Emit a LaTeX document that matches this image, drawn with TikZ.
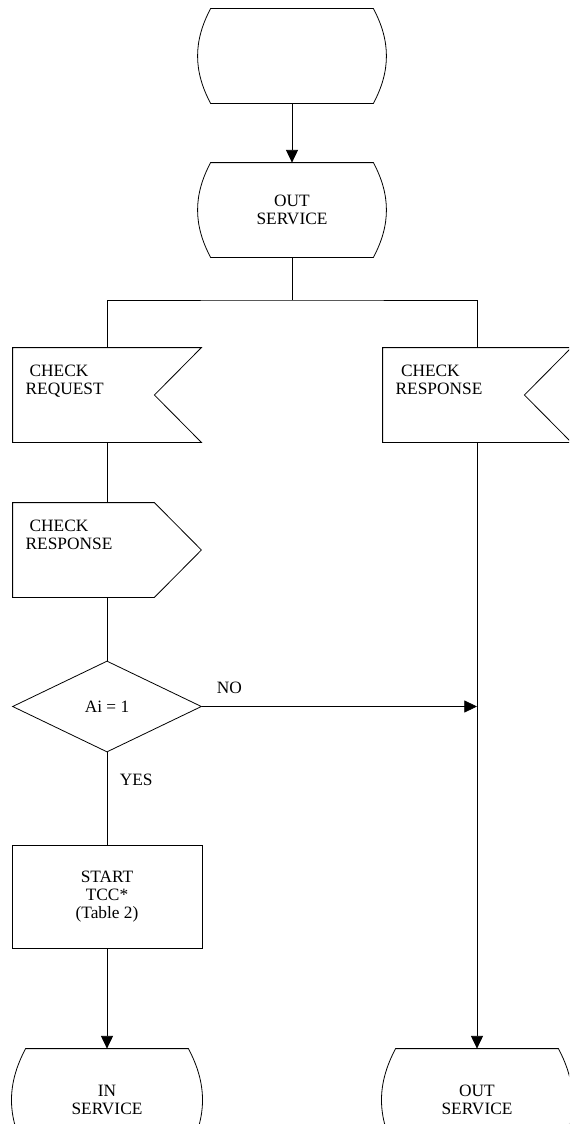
\documentclass[tikz,border=0pt]{standalone}
\usepackage{fontspec}
\setmainfont{Liberation Serif}
\usetikzlibrary{arrows.meta,positioning,shapes.geometric}
\tikzset{state/.style={minimum width=141pt,minimum height=70.5pt,inner sep=0pt,align=center}, sig/.style={minimum width=141pt,minimum height=70.5pt,inner sep=0pt}, sigtext/.style={anchor=north west,align=left,inner sep=0pt,xshift=9.5pt,yshift=22.5pt}, decision/.style={draw,diamond,minimum width=141.75pt,minimum height=68.25pt,inner sep=0pt}, box/.style={draw,align=center,minimum width=142.5pt,minimum height=77.25pt}, arr/.style={-{Triangle[length=9.5pt,width=9pt]}}}

\begin{document}
\begin{tikzpicture}[x=0.75pt,y=-0.75pt,line width=0.6pt,font=\fontsize{13}{13.2}\selectfont]
\useasboundingbox (0,0) rectangle (569,1124);
\clip (0,0) rectangle (569,1124);
\node[state] (s0) at (292,56) {};
\node[state] (s1) at (292,210) {OUT\\SERVICE};
\coordinate (fork) at (292,300);
\node[sig,label={[sigtext]west:{\hspace*{3pt}CHECK\\REQUEST}}] (creq) at (107,395) {};
\node[sig,label={[sigtext]west:{\hspace*{4pt}CHECK\\RESPONSE}}] (crsp) at (477,395) {};
\node[sig,label={[sigtext]west:{\hspace*{3pt}CHECK\\RESPONSE}}] (csnd) at (107,550) {};
\node[decision] (ai) at (107,706.5) {Ai = 1};
\node[box] (tcc) at (107,896.5) {START\\TCC*\\(Table 2)};
\node[state,minimum height=76.5pt] (insvc) at (107,1100) {IN\\SERVICE};
\node[state,minimum height=76.5pt] (outsvc) at (477,1100) {OUT\\SERVICE};
\coordinate (join) at (ai -| crsp);
% outlines
\foreach \n in {s0,s1,insvc,outsvc}
  \draw ([xshift=9.75pt]\n.north west) -- ([xshift=-9.75pt]\n.north east) to[bend left=28] ([xshift=-9.75pt]\n.south east) -- ([xshift=9.75pt]\n.south west) to[bend left=28] ([xshift=9.75pt]\n.north west) -- cycle;
\foreach \n in {creq,crsp}
  \draw (\n.north west) -- (\n.north east) -- ([xshift=-35.25pt]\n.east) -- (\n.south east) -- (\n.south west) -- cycle;
\draw (csnd.north west) -- ([xshift=-35.25pt]csnd.north east) -- (csnd.east) -- ([xshift=-35.25pt]csnd.south east) -- (csnd.south west) -- cycle;
% connectors
\draw[arr] (s0) -- (s1);
\draw (s1) -- (fork);
\draw (creq.north) |- (fork) -| (crsp.north);
\draw (creq) -- (csnd);
\draw (csnd) -- (ai);
\draw (ai) -- node[pos=0.3,right=6pt] {YES} (tcc);
\draw[arr] (tcc) -- (insvc);
\draw[arr] (ai.east) -- node[pos=0.1,above=6pt] {NO} (join);
\draw[arr] (crsp) -- (outsvc);
\end{tikzpicture}
\end{document}
